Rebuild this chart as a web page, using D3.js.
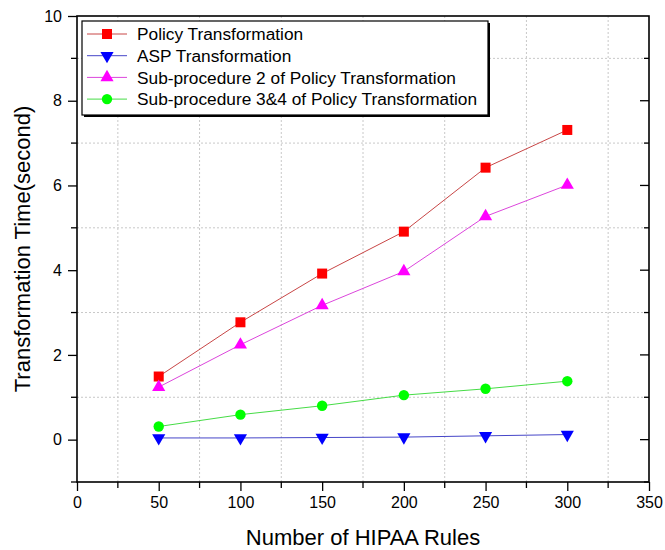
<!DOCTYPE html>
<html>
<head>
<meta charset="utf-8">
<script src="https://cdn.jsdelivr.net/npm/d3@7"></script>
<style>
  body { margin: 0; background: #fff; }
  text { font-family: Arial, "Liberation Sans", sans-serif; fill: #000; }
</style>
</head>
<body>
<svg width="665" height="550"></svg>
<script>
var rules = [50, 100, 150, 200, 250, 300];
var policyTrans = [1.49, 2.77, 3.92, 4.91, 6.42, 7.31];
var aspTrans = [0.04, 0.04, 0.05, 0.06, 0.09, 0.12];
var subProc2 = [1.24, 2.24, 3.17, 3.97, 5.27, 6.01];
var subProc34 = [0.31, 0.59, 0.80, 1.05, 1.20, 1.38];
var seriesNames = ['Policy Transformation', 'ASP Transformation',
    'Sub-procedure 2 of Policy Transformation', 'Sub-procedure 3&4 of Policy Transformation'];
var xTicks = [0, 50, 100, 150, 200, 250, 300, 350];
var yTicks = [0, 2, 4, 6, 8, 10];

var series = [
    { name: seriesNames[0], values: policyTrans, marker: d3.symbolSquare, size: 100, rot: 0, fill: '#ff0000', line: '#c84646' },
    { name: seriesNames[1], values: aspTrans, marker: d3.symbolTriangle, size: 75, rot: 180, fill: '#0000ff', line: '#4646c8' },
    { name: seriesNames[2], values: subProc2, marker: d3.symbolTriangle, size: 75, rot: 0, fill: '#ff00ff', line: '#dc46dc' },
    { name: seriesNames[3], values: subProc34, marker: d3.symbolCircle, size: 85, rot: 0, fill: '#00ff00', line: '#46dc46' }
];

var pLeft = 77, pRight = 649, pTop = 16, pBottom = 482;
var svg = d3.select('svg');

var x = d3.scaleLinear().domain([0, 350]).range([pLeft, pRight]);
var y = d3.scaleLinear().domain([-1, 10]).range([pBottom, pTop]);

// dotted grid at the minor positions
var grid = svg.append('g');
d3.range(25, 350, 50).forEach(function (v) {
    grid.append('line').attr('x1', x(v)).attr('x2', x(v)).attr('y1', pTop).attr('y2', pBottom)
        .attr('stroke', '#c8c8c8').attr('stroke-dasharray', '2,2');
});
d3.range(1, 10, 2).forEach(function (v) {
    grid.append('line').attr('y1', y(v)).attr('y2', y(v)).attr('x1', pLeft).attr('x2', pRight)
        .attr('stroke', '#c8c8c8').attr('stroke-dasharray', '2,2');
});

// axes
var xAxis = d3.axisBottom(x).tickValues(xTicks).tickSize(9).tickPadding(6);
var gx = svg.append('g').attr('transform', 'translate(0,' + pBottom + ')').call(xAxis);
var yAxis = d3.axisLeft(y).tickValues(yTicks).tickSize(9).tickPadding(6);
var gy = svg.append('g').attr('transform', 'translate(' + pLeft + ',0)').call(yAxis);
[gx, gy].forEach(function (g) {
    g.select('.domain').remove();
    g.selectAll('line').attr('stroke', '#000').attr('stroke-width', 1.3);
    g.selectAll('text').style('font-size', '16px').attr('font-family', 'Arial, "Liberation Sans", sans-serif');
});

// minor ticks
d3.range(25, 350, 50).forEach(function (v) {
    svg.append('line').attr('x1', x(v)).attr('x2', x(v)).attr('y1', pBottom).attr('y2', pBottom + 6)
        .attr('stroke', '#000').attr('stroke-width', 1.3);
});
d3.range(-1, 10, 2).forEach(function (v) {
    svg.append('line').attr('y1', y(v)).attr('y2', y(v)).attr('x1', pLeft).attr('x2', pLeft - 6)
        .attr('stroke', '#000').attr('stroke-width', 1.3);
});
// right axis ticks pointing inward
d3.range(-1, 10, 1).forEach(function (v) {
    svg.append('line').attr('y1', y(v)).attr('y2', y(v)).attr('x1', pRight).attr('x2', pRight - (v % 2 === 0 ? 9 : 5))
        .attr('stroke', '#000').attr('stroke-width', 1.3);
});

// frame
svg.append('rect').attr('x', pLeft).attr('y', pTop).attr('width', pRight - pLeft).attr('height', pBottom - pTop)
    .attr('fill', 'none').attr('stroke', '#000').attr('stroke-width', 1.6);

// lines and markers
var line = d3.line().x(function (d, i) { return x(rules[i]); }).y(function (d) { return y(d); });
series.forEach(function (s) {
    svg.append('path').datum(s.values).attr('d', line)
        .attr('fill', 'none').attr('stroke', s.line).attr('stroke-width', 1);
    svg.selectAll(null).data(s.values).enter().append('path')
        .attr('d', d3.symbol().type(s.marker).size(s.size))
        .attr('transform', function (d, i) { return 'translate(' + x(rules[i]) + ',' + y(d) + ') rotate(' + s.rot + ')'; })
        .attr('fill', s.fill);
});

// legend
var lg = svg.append('g');
lg.append('rect').attr('x', 84).attr('y', 23).attr('width', 406).attr('height', 94).attr('fill', '#000');
lg.append('rect').attr('x', 82).attr('y', 21).attr('width', 406).attr('height', 94)
    .attr('fill', '#fff').attr('stroke', '#000').attr('stroke-width', 1.2);
series.forEach(function (s, i) {
    var ly = 34 + i * 21.7;
    lg.append('line').attr('x1', 87).attr('x2', 127).attr('y1', ly).attr('y2', ly)
        .attr('stroke', s.line).attr('stroke-width', 1);
    lg.append('path').attr('d', d3.symbol().type(s.marker).size(s.size))
        .attr('transform', 'translate(107,' + ly + ') rotate(' + s.rot + ')').attr('fill', s.fill);
    lg.append('text').attr('x', 137).attr('y', ly).attr('dy', '0.36em')
        .style('font-size', '17.3px').text(s.name);
});

// axis titles
svg.append('text').attr('x', (pLeft + pRight) / 2).attr('y', 545).attr('text-anchor', 'middle')
    .style('font-size', '22px').text('Number of HIPAA Rules');
svg.append('text').attr('transform', 'translate(30,' + y(4.5) + ') rotate(-90)').attr('text-anchor', 'middle')
    .style('font-size', '22px').text('Transformation Time(second)');
</script>
</body>
</html>
